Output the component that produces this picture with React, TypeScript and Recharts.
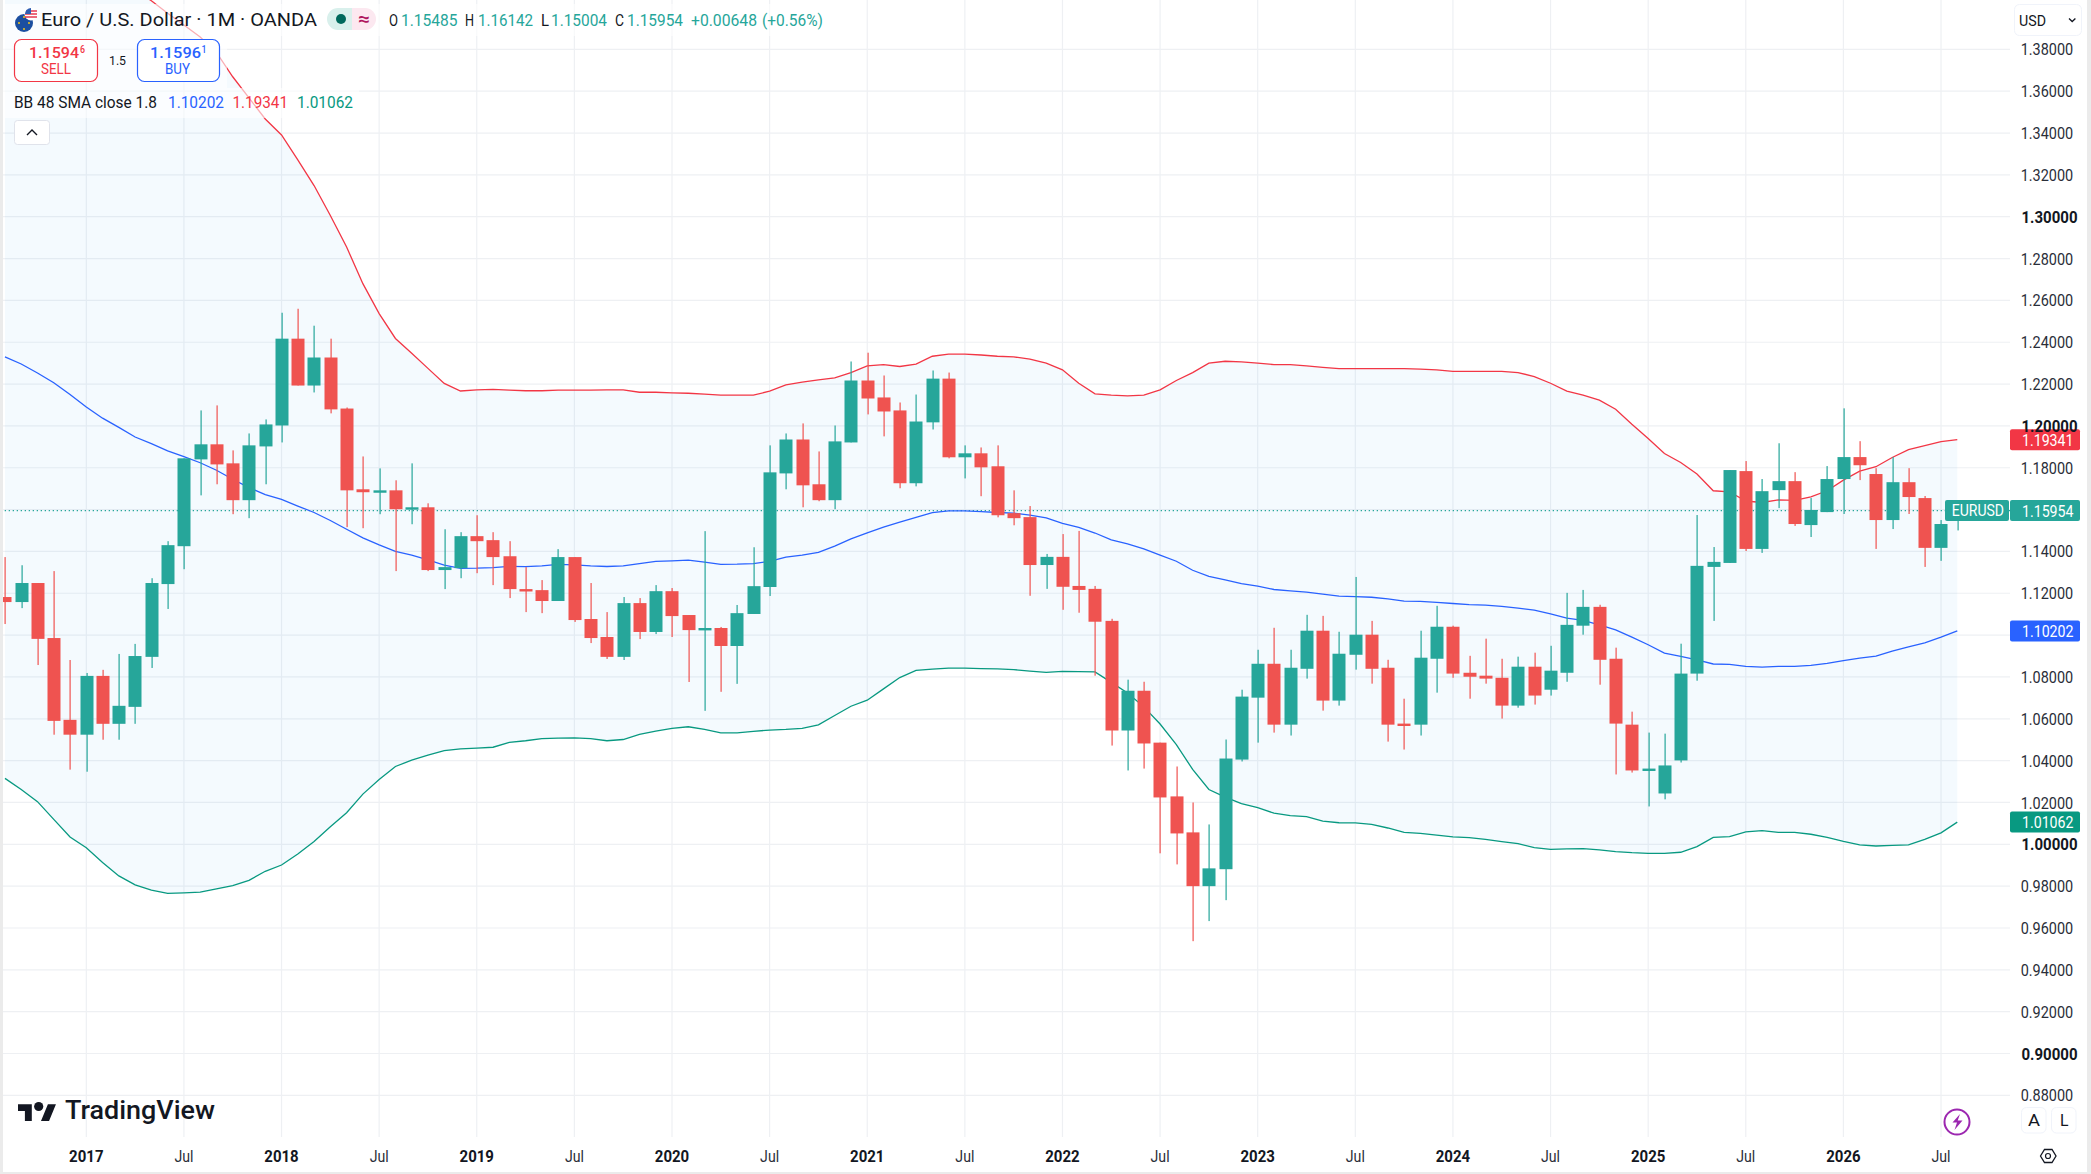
import React from "react";
import { ComposedChart, Area, Line, Bar, XAxis, YAxis, CartesianGrid, ReferenceLine, ReferenceDot } from "recharts";

// Monthly bars: first bar is Aug 2016 (month index -5 relative to Jan 2017), last is Aug 2026.
const opens = [
  1.1182, 1.1158, 1.1249, 1.0986, 1.0595,
  1.0524, 1.0805, 1.0576, 1.0657, 1.0896, 1.1244, 1.1425, 1.184, 1.1912, 1.1821, 1.1645, 1.1902,
  1.2002, 1.2417, 1.2193, 1.2327, 1.2083, 1.1697, 1.1687, 1.1692, 1.1606, 1.1611, 1.1311, 1.132,
  1.1473, 1.1454, 1.1377, 1.122, 1.1215, 1.1163, 1.1373, 1.1077, 1.0991, 1.0896, 1.1153, 1.1015,
  1.121, 1.1096, 1.1024, 1.1034, 1.0948, 1.1101, 1.123, 1.1773, 1.1935, 1.1721, 1.1645, 1.1921,
  1.2217, 1.2136, 1.2074, 1.1726, 1.2017, 1.2226, 1.185, 1.1869, 1.1807, 1.1583, 1.1564, 1.1335,
  1.1374, 1.1235, 1.1221, 1.1068, 1.0544, 1.0734, 1.0486, 1.0229, 1.0057, 0.98, 0.9881, 1.0405,
  1.0701, 1.0863, 1.0572, 1.0839, 1.1021, 1.0687, 1.0906, 1.1002, 1.0844, 1.0577, 1.0572, 1.0887,
  1.104, 1.082, 1.0806, 1.0796, 1.0663, 1.0849, 1.0739, 1.082, 1.1045, 1.1135, 1.0887, 1.0572,
  1.0353, 1.0243, 1.0401, 1.0816, 1.1326, 1.1345, 1.1784, 1.1412, 1.1693, 1.1736, 1.1526, 1.1588,
  1.1746, 1.1851, 1.177, 1.155, 1.1731, 1.1655, 1.1417, 1.15485,
];
const highs = [
  1.1373, 1.1334, 1.1249, 1.1306, 1.0881,
  1.0819, 1.0834, 1.091, 1.0958, 1.1272, 1.1449, 1.1845, 1.2074, 1.2098, 1.1883, 1.1964, 1.2031,
  1.2541, 1.256, 1.2479, 1.2417, 1.2088, 1.1854, 1.1797, 1.174, 1.1821, 1.163, 1.1506, 1.1492,
  1.1573, 1.1492, 1.1449, 1.1325, 1.1263, 1.1411, 1.1373, 1.1249, 1.111, 1.1182, 1.1177, 1.1239,
  1.1225, 1.1096, 1.1497, 1.1039, 1.1144, 1.142, 1.1907, 1.1964, 1.2012, 1.1878, 1.2002, 1.2308,
  1.235, 1.2241, 1.2112, 1.215, 1.2265, 1.2255, 1.1907, 1.1897, 1.1907, 1.1692, 1.1617, 1.1388,
  1.1483, 1.1498, 1.1235, 1.1078, 1.0787, 1.0777, 1.0486, 1.0372, 1.02, 1.0095, 1.0501, 1.0739,
  1.093, 1.1035, 1.093, 1.1097, 1.1092, 1.1016, 1.1278, 1.1068, 1.0882, 1.0696, 1.1021, 1.114,
  1.1045, 1.0901, 1.0983, 1.0887, 1.0897, 1.0916, 1.0949, 1.1202, 1.1216, 1.1145, 1.094, 1.0634,
  1.0534, 1.0529, 1.0959, 1.1574, 1.1421, 1.1789, 1.1832, 1.1746, 1.1917, 1.1779, 1.1655, 1.1808,
  1.2084, 1.1927, 1.1798, 1.1851, 1.1798, 1.1665, 1.155, 1.16142,
];
const lows = [
  1.1053, 1.1129, 1.0857, 1.0524, 1.0357,
  1.0347, 1.05, 1.05, 1.0576, 1.0843, 1.1125, 1.1315, 1.1668, 1.1721, 1.1578, 1.1559, 1.1721,
  1.1921, 1.2193, 1.216, 1.206, 1.1516, 1.1511, 1.1578, 1.1306, 1.153, 1.1306, 1.122, 1.1272,
  1.1296, 1.1239, 1.1177, 1.111, 1.1105, 1.1163, 1.1063, 1.0962, 1.0886, 1.0881, 1.0981, 1.1005,
  1.0991, 1.0776, 1.0638, 1.0729, 1.0767, 1.1101, 1.1187, 1.1697, 1.1611, 1.164, 1.1602, 1.1921,
  1.2055, 1.195, 1.1702, 1.1711, 1.1983, 1.1845, 1.1749, 1.1664, 1.1563, 1.1525, 1.1188, 1.1221,
  1.1121, 1.1107, 1.0806, 1.0472, 1.0353, 1.0362, 0.9957, 0.9904, 0.9537, 0.9633, 0.9733, 1.0396,
  1.0486, 1.0534, 1.052, 1.0792, 1.0639, 1.0663, 1.0835, 1.0768, 1.0491, 1.0453, 1.052, 1.0725,
  1.0796, 1.0696, 1.0768, 1.0601, 1.0653, 1.0668, 1.0711, 1.0777, 1.1002, 1.0763, 1.0334, 1.0343,
  1.0181, 1.0215, 1.0391, 1.0782, 1.1068, 1.1345, 1.1402, 1.1393, 1.1607, 1.1522, 1.1469, 1.1588,
  1.1579, 1.1741, 1.1412, 1.1507, 1.1579, 1.1326, 1.1355, 1.15004,
];
const closes = [
  1.1158, 1.1249, 1.0982, 1.059, 1.0524,
  1.0805, 1.0576, 1.0662, 1.09, 1.1249, 1.143, 1.1845, 1.1912, 1.1816, 1.1645, 1.1907, 1.2007,
  1.2417, 1.2193, 1.2327, 1.2079, 1.1692, 1.1683, 1.1692, 1.1602, 1.1611, 1.1311, 1.1325, 1.1473,
  1.1449, 1.1373, 1.122, 1.1217, 1.1163, 1.1373, 1.1072, 1.0986, 1.0896, 1.1153, 1.1015, 1.121,
  1.1091, 1.1024, 1.1034, 1.0948, 1.1105, 1.1234, 1.1778, 1.1935, 1.1716, 1.1645, 1.1926, 1.2217,
  1.2131, 1.2069, 1.1726, 1.2021, 1.2226, 1.185, 1.1869, 1.1802, 1.1573, 1.1559, 1.1335, 1.1374,
  1.1231, 1.1216, 1.1064, 1.0544, 1.0734, 1.0482, 1.0224, 1.0052, 0.98, 0.9885, 1.041, 1.0706,
  1.0863, 1.0572, 1.0844, 1.1021, 1.0687, 1.0911, 1.1002, 1.0839, 1.0572, 1.0572, 1.0892, 1.104,
  1.0816, 1.0801, 1.0792, 1.0663, 1.0849, 1.0711, 1.083, 1.1049, 1.1135, 1.0882, 1.0577, 1.0353,
  1.0362, 1.0377, 1.0816, 1.1331, 1.135, 1.1789, 1.1412, 1.1688, 1.1736, 1.1531, 1.1598, 1.1746,
  1.1851, 1.1812, 1.155, 1.1731, 1.166, 1.1417, 1.1531, 1.15954,
];
const basis = [
  1.233, 1.2296, 1.2253, 1.2206, 1.215,
  1.209, 1.2037, 1.1993, 1.1947, 1.1915, 1.1881, 1.1853, 1.1824, 1.1788, 1.1745, 1.1705, 1.1672,
  1.1649, 1.1617, 1.1586, 1.1548, 1.1506, 1.1465, 1.1431, 1.14, 1.1382, 1.136, 1.1334, 1.1319,
  1.132, 1.1323, 1.1329, 1.1327, 1.1331, 1.1338, 1.1336, 1.1331, 1.1328, 1.1331, 1.1342, 1.1352,
  1.1355, 1.1358, 1.1349, 1.1338, 1.1339, 1.1342, 1.1352, 1.1373, 1.1382, 1.1396, 1.1425, 1.146,
  1.1489, 1.1516, 1.154, 1.1563, 1.1586, 1.1594, 1.1594, 1.159, 1.1586, 1.1583, 1.1574, 1.156,
  1.1534, 1.1515, 1.1488, 1.1455, 1.1436, 1.1412, 1.1382, 1.1353, 1.131, 1.1281, 1.1264, 1.1246,
  1.1234, 1.1218, 1.1211, 1.1205, 1.1196, 1.1186, 1.1184, 1.1181, 1.1173, 1.1162, 1.1161, 1.1156,
  1.1151, 1.1146, 1.1143, 1.1137, 1.1129, 1.1119, 1.1102, 1.1081, 1.107, 1.1049, 1.1025, 1.099,
  1.0954, 1.0914, 1.0898, 1.0882, 1.0862, 1.086, 1.0851, 1.0847, 1.0851, 1.0851, 1.0855, 1.0865,
  1.0878, 1.089, 1.09, 1.0924, 1.0944, 1.0963, 1.099, 1.10202,
];
const upper = [
  1.47, 1.46, 1.452, 1.444, 1.437,
  1.431, 1.425, 1.419, 1.4085, 1.4032, 1.3973, 1.3916, 1.3859, 1.3785, 1.3669, 1.3568, 1.3467,
  1.3391, 1.3272, 1.3149, 1.3006, 1.2855, 1.268, 1.2537, 1.2418, 1.2347, 1.2275, 1.2203, 1.2167,
  1.2172, 1.2175, 1.2171, 1.2168, 1.2168, 1.2171, 1.2171, 1.2171, 1.2172, 1.2172, 1.2161, 1.2161,
  1.2158, 1.2156, 1.2152, 1.2147, 1.2147, 1.2147, 1.2166, 1.2196, 1.2209, 1.222, 1.223, 1.2255,
  1.2287, 1.2293, 1.2284, 1.2295, 1.2333, 1.2343, 1.2343, 1.2339, 1.2333, 1.233, 1.2319, 1.23,
  1.2268, 1.2204, 1.2153, 1.2147, 1.2144, 1.2147, 1.2172, 1.2217, 1.2255, 1.23, 1.2309, 1.2306,
  1.23, 1.2293, 1.2293, 1.2287, 1.228, 1.2274, 1.2274, 1.2274, 1.2274, 1.2274, 1.2271, 1.2268,
  1.2261, 1.2261, 1.2261, 1.2261, 1.2255, 1.2236, 1.2204, 1.2166, 1.2147, 1.2123, 1.208, 1.2008,
  1.194, 1.1868, 1.1825, 1.177, 1.169, 1.1685, 1.1641, 1.1634, 1.1646, 1.1644, 1.1661, 1.169,
  1.1741, 1.1784, 1.1805, 1.1849, 1.1887, 1.1906, 1.1925, 1.19341,
];
const lower = [
  1.0315, 1.0262, 1.0204, 1.0119, 1.0035,
  0.9984, 0.9913, 0.9849, 0.9806, 0.9781, 0.9765, 0.9768, 0.9771, 0.9787, 0.9803, 0.9828, 0.9871,
  0.9901, 0.9954, 1.0013, 1.0084, 1.0151, 1.024, 1.031, 1.0372, 1.0402, 1.0426, 1.0448, 1.0456,
  1.046, 1.0464, 1.0487, 1.0495, 1.0505, 1.0508, 1.0509, 1.0505, 1.0495, 1.0501, 1.0525, 1.0541,
  1.0554, 1.0562, 1.0549, 1.0533, 1.0533, 1.054, 1.0546, 1.0549, 1.0554, 1.0571, 1.0616, 1.066,
  1.0689, 1.0743, 1.0797, 1.0831, 1.0837, 1.0842, 1.0842, 1.084, 1.0839, 1.0835, 1.0828, 1.0822,
  1.0827, 1.0825, 1.0824, 1.0774, 1.0723, 1.0657, 1.0575, 1.0477, 1.0358, 1.0262, 1.0226, 1.0194,
  1.0175, 1.0149, 1.0137, 1.0132, 1.0111, 1.0103, 1.0102, 1.0095, 1.0078, 1.0057, 1.0052, 1.0044,
  1.0036, 1.0032, 1.0024, 1.0013, 1.0003, 0.9984, 0.9976, 0.9978, 0.9979, 0.9973, 0.9965, 0.996,
  0.9957, 0.9957, 0.9962, 0.9989, 1.0033, 1.0037, 1.0059, 1.0065, 1.0057, 1.0057, 1.0048, 1.0033,
  1.0014, 0.9997, 0.9992, 0.9995, 0.9997, 1.0024, 1.0055, 1.01062,
];

const priceTicks = [
  0.88, 0.9, 0.92, 0.94, 0.96, 0.98, 1.0, 1.02, 1.04, 1.06, 1.08, 1.1, 1.12, 1.14, 1.16, 1.18, 1.2, 1.22, 1.24, 1.26,
  1.28, 1.3, 1.32, 1.34, 1.36, 1.38,
];
const boldPrices = [0.9, 1.0, 1.2, 1.3];
// Ticks whose text sits fully behind a last-value tag in the picture.
const coveredPrices = [1.1, 1.16];
const timeTicks = [0, 6, 12, 18, 24, 30, 36, 42, 48, 54, 60, 66, 72, 78, 84, 90, 96, 102, 108, 114];
const timeLabels = [
  "2017", "Jul", "2018", "Jul", "2019", "Jul", "2020", "Jul", "2021", "Jul", "2022", "Jul", "2023", "Jul", "2024", "Jul",
  "2025", "Jul", "2026", "Jul",
];
const lastPrice = 1.15954;
const lastBasis = 1.10202;
const lastUpper = 1.19341;
const lastLower = 1.01062;

const rows = opens.map((open, k) => ({
  i: k - 5,
  open,
  high: highs[k],
  low: lows[k],
  close: closes[k],
  range: [lows[k], highs[k]],
  basis: basis[k],
  upper: upper[k],
  lower: lower[k],
  band: [lower[k], upper[k]],
}));

const UP = "#26a69a";
const DOWN = "#ef5350";
const INK = "#131722";
const BLUE = "#2962ff";
const RED = "#f23645";
const GREEN = "#089981";
const SANS = "Roboto, 'Noto Sans', sans-serif";

function T({ x, cy, w, size = 16, weight = 400, fill = INK, children }: any) {
  return (
    <text
      x={x}
      y={cy + size * 0.355}
      textLength={w}
      lengthAdjust="spacingAndGlyphs"
      fontFamily={SANS}
      fontSize={size}
      fontWeight={weight}
      fill={fill}
    >
      {children}
    </text>
  );
}

function Candle(props: any) {
  const { x, y, width, height, payload } = props;
  const { open, high, low, close } = payload;
  if (height == null) return null;
  const cx = Math.round(x + width / 2);
  const at = (v: number) => y + ((high - v) / (high - low)) * height;
  const top = at(Math.max(open, close));
  const bottom = at(Math.min(open, close));
  const color = close >= open ? UP : DOWN;
  return (
    <g>
      <rect x={cx - 0.5} y={y} width={1.2} height={height} fill={color} />
      <rect x={cx - 6.5} y={top} width={13} height={Math.max(bottom - top, 2.4)} fill={color} />
    </g>
  );
}

function PriceTick(props: any) {
  const { y, payload } = props;
  const v = payload.value;
  if (coveredPrices.some((c) => Math.abs(c - v) < 1e-6)) return <g />;
  const bold = boldPrices.some((b) => Math.abs(b - v) < 1e-6);
  return (
    <T x={bold ? 2021.5 : 2020.7} cy={y} w={bold ? 56 : 52.5} size={17} weight={bold ? 700 : 400} fill={bold ? INK : "#2a2e39"}>
      {v.toFixed(5)}
    </T>
  );
}

function TimeTick(props: any) {
  const { x, payload } = props;
  const label = timeLabels[timeTicks.indexOf(payload.value)];
  const year = label !== "Jul";
  const w = year ? 34.4 : 19;
  return (
    <T x={x - w / 2} cy={1156} w={w} size={16.5} weight={year ? 700 : 400} fill={year ? INK : "#2a2e39"}>
      {label}
    </T>
  );
}

function PriceTag(props: any) {
  const { cy, text, fill } = props;
  return (
    <g>
      <rect x={2010} y={cy - 10.5} width={70} height={21} rx={2} fill={fill} />
      <T x={2022} cy={cy} w={51.5} size={17} weight={400} fill="#ffffff">
        {text}
      </T>
    </g>
  );
}

function SymbolTag(props: any) {
  const { cy } = props;
  return (
    <g>
      <rect x={1945} y={cy - 10.5} width={64} height={21} rx={2} fill={UP} />
      <T x={1951.7} cy={cy} w={52.3} size={16} fill="#ffffff">
        EURUSD
      </T>
    </g>
  );
}

function Overlay() {
  return (
    <svg width={2091} height={1174} style={{ position: "absolute", left: 0, top: 0, pointerEvents: "none" }}>
      {/* translucent legend backings */}
      <rect x={3} y={4} width={826} height={32} fill="#ffffff" opacity={0.6} />
      <rect x={3} y={36} width={224} height={52} fill="#ffffff" opacity={0.6} />
      <rect x={3} y={88} width={356} height={30} fill="#ffffff" opacity={0.6} />

      {/* page edges */}
      <rect x={0} y={0} width={3} height={1174} fill="#ebebeb" />
      <rect x={2087} y={0} width={4} height={1174} fill="#ebebeb" />
      <rect x={0} y={1172} width={2091} height={2} fill="#ebebeb" />

      {/* symbol flag */}
      <circle cx={24} cy={23} r={9} fill="#1c4fa0" />
      <circle cx={24} cy={17} r={1} fill="#f5c518" />
      <circle cx={19} cy={23} r={1} fill="#f5c518" />
      <circle cx={29} cy={23} r={1} fill="#f5c518" />
      <circle cx={24} cy={29} r={1} fill="#f5c518" />
      <circle cx={31} cy={14} r={6.5} fill="#ffffff" />
      <path d="M26 11h11M25 14h12M25 17h12" stroke="#e53950" strokeWidth={1.6} />
      <path d="M31 8a6 6 0 0 0-6 6h6z" fill="#2f5fb3" />

      <T x={41} cy={20} w={276} size={18}>Euro / U.S. Dollar · 1M · OANDA</T>

      {/* status pill */}
      <path d="M352 8h-14a11 11 0 0 0 0 22h14z" fill="#d9f0ec" />
      <path d="M352 8h13a11 11 0 0 1 0 22h-13z" fill="#fce8f0" />
      <circle cx={341} cy={19} r={5} fill="#00695c" />
      <T x={358} cy={19} w={12} size={18} weight={700} fill="#b0175f">≈</T>

      {/* OHLC */}
      <T x={389} cy={20} w={9} size={16}>O</T>
      <T x={401} cy={20} w={56.5} size={16} fill={UP}>1.15485</T>
      <T x={465} cy={20} w={9} size={16}>H</T>
      <T x={478} cy={20} w={55} size={16} fill={UP}>1.16142</T>
      <T x={541} cy={20} w={8} size={16}>L</T>
      <T x={551} cy={20} w={56} size={16} fill={UP}>1.15004</T>
      <T x={615} cy={20} w={9} size={16}>C</T>
      <T x={627} cy={20} w={56} size={16} fill={UP}>1.15954</T>
      <T x={691} cy={20} w={66} size={16} fill={UP}>+0.00648</T>
      <T x={762} cy={20} w={61} size={16} fill={UP}>(+0.56%)</T>

      {/* order buttons */}
      <rect x={14.5} y={39.5} width={83} height={42} rx={7} fill="#ffffff" stroke={RED} strokeWidth={1.2} />
      <T x={29} cy={52} w={50} size={15.5} weight={500} fill={RED}>1.1594</T>
      <T x={80} cy={49} w={5} size={10.5} weight={500} fill={RED}>6</T>
      <T x={41} cy={69} w={30} size={15} fill={RED}>SELL</T>
      <T x={109} cy={60} w={17} size={13.5}>1.5</T>
      <rect x={137.5} y={39.5} width={82} height={42} rx={7} fill="#ffffff" stroke={BLUE} strokeWidth={1.2} />
      <T x={150} cy={52} w={51} size={15.5} weight={500} fill={BLUE}>1.1596</T>
      <T x={201.5} cy={49} w={5} size={10.5} weight={500} fill={BLUE}>1</T>
      <T x={165} cy={69} w={25} size={15} fill={BLUE}>BUY</T>

      {/* indicator legend */}
      <T x={14} cy={102} w={143} size={16}>BB 48 SMA close 1.8</T>
      <T x={168} cy={102} w={56} size={16} fill={BLUE}>1.10202</T>
      <T x={232.5} cy={102} w={55.5} size={16} fill={RED}>1.19341</T>
      <T x={297} cy={102} w={56} size={16} fill={GREEN}>1.01062</T>
      <rect x={14.5} y={120.5} width={35} height={24} rx={3} fill="#ffffff" stroke="#e0e3eb" />
      <path d="M27 135l5-5 5 5" fill="none" stroke={INK} strokeWidth={1.4} />

      {/* currency selector */}
      <rect x={2014.5} y={4.5} width={67} height={31} rx={5} fill="#ffffff" stroke="#f0f3fa" />
      <T x={2019} cy={20} w={27} size={15.5}>USD</T>
      <path d="M2069 18.5l3.2 3 3.2-3" fill="none" stroke={INK} strokeWidth={1.3} />

      {/* scale buttons */}
      <rect x={2021.5} y={1107.5} width={24.5} height={25.5} rx={5} fill="#ffffff" stroke="#f0f3fa" />
      <T x={2028} cy={1120} w={12} size={17}>A</T>
      <rect x={2051.5} y={1107.5} width={24.5} height={25.5} rx={5} fill="#ffffff" stroke="#f0f3fa" />
      <T x={2060} cy={1120} w={8.5} size={17}>L</T>

      {/* bolt */}
      <circle cx={1957} cy={1122} r={12.5} fill="#ffffff" stroke="#9c27b0" strokeWidth={2} />
      <path d="M1960 1114l-7.5 8.5h4.5l-2.5 7.5 8-9.5h-4.8z" fill="#9c27b0" />

      {/* settings */}
      <path d="M2041 1156l4-6.5h7.5l4 6.5-4 6.5h-7.5z" transform="translate(-0.5,0)" fill="none" stroke={INK} strokeWidth={1.3} />
      <circle cx={2048} cy={1156} r={2.5} fill="none" stroke={INK} strokeWidth={1.2} />

      {/* brand */}
      <g transform="translate(15.7,1097.5) scale(1.15,1.12)">
        <path d="M14 6H2v6h6v9h6V6Z M22 21l6-15h7l-6 15h-7Z" fill={INK} />
        <circle cx={20} cy={8} r={4} fill={INK} />
      </g>
      <T x={65} cy={1110} w={150} size={26} weight={500}>TradingView</T>
    </svg>
  );
}

export default function App() {
  return (
    <div style={{ position: "absolute", left: 0, top: 0, width: 2091, height: 1174, background: "#ffffff", overflow: "hidden" }}>
      <ComposedChart width={2091} height={1174} data={rows} margin={{ top: 0, left: 3, right: 0, bottom: 0 }}>
        <CartesianGrid stroke="#eef0f3" strokeWidth={1.2} syncWithTicks />
        <XAxis
          dataKey="i"
          type="number"
          domain={[-5.12, 118.24]}
          allowDataOverflow
          ticks={timeTicks}
          interval={0}
          height={37}
          axisLine={false}
          tickLine={false}
          tick={<TimeTick />}
        />
        <YAxis
          orientation="right"
          type="number"
          domain={[0.86009, 1.40359]}
          allowDataOverflow
          ticks={priceTicks}
          interval={0}
          width={81}
          axisLine={false}
          tickLine={false}
          tick={<PriceTick />}
        />
        <Area dataKey="band" stroke="none" fill="#2196f3" fillOpacity={0.05} isAnimationActive={false} dot={false} activeDot={false} />
        <ReferenceLine y={lastPrice} stroke={UP} strokeWidth={1.2} strokeDasharray="1.3 2.7" />
        <Line dataKey="basis" stroke={BLUE} strokeWidth={1.3} dot={false} activeDot={false} isAnimationActive={false} type="linear" />
        <Line dataKey="upper" stroke={RED} strokeWidth={1.3} dot={false} activeDot={false} isAnimationActive={false} type="linear" />
        <Line dataKey="lower" stroke={GREEN} strokeWidth={1.3} dot={false} activeDot={false} isAnimationActive={false} type="linear" />
        <Bar dataKey="range" barSize={13} shape={<Candle />} isAnimationActive={false} zIndex={500} />
        <ReferenceDot x={115} y={lastUpper} ifOverflow="visible" zIndex={900} shape={(p: any) => <PriceTag cy={p.cy} text="1.19341" fill={RED} />} />
        <ReferenceDot x={115} y={lastPrice} ifOverflow="visible" zIndex={900} shape={(p: any) => <PriceTag cy={p.cy} text="1.15954" fill={UP} />} />
        <ReferenceDot x={115} y={lastPrice} ifOverflow="visible" zIndex={900} shape={(p: any) => <SymbolTag cy={p.cy} />} />
        <ReferenceDot x={115} y={lastBasis} ifOverflow="visible" zIndex={900} shape={(p: any) => <PriceTag cy={p.cy} text="1.10202" fill={BLUE} />} />
        <ReferenceDot x={115} y={lastLower} ifOverflow="visible" zIndex={900} shape={(p: any) => <PriceTag cy={p.cy} text="1.01062" fill={GREEN} />} />
      </ComposedChart>
      <Overlay />
    </div>
  );
}
